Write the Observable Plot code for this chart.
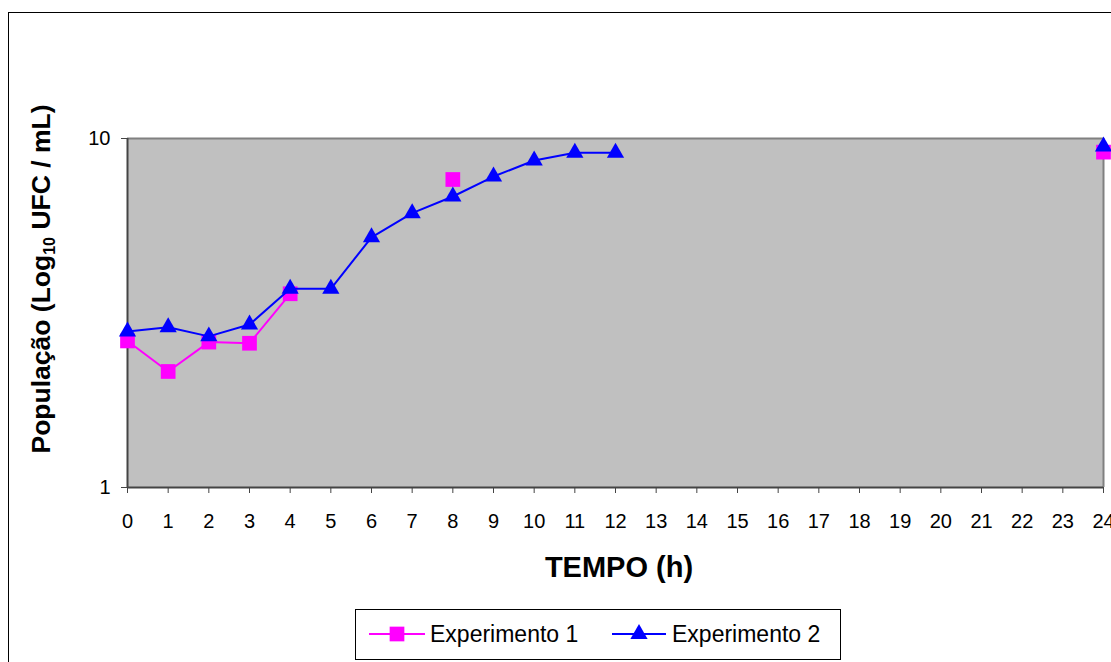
<!DOCTYPE html>
<html>
<head>
<meta charset="utf-8">
<script src="https://cdn.jsdelivr.net/npm/d3@7"></script>
<script src="https://cdn.jsdelivr.net/npm/@observablehq/plot@0.6"></script>
<style>
  html, body { margin: 0; padding: 0; background: #fff; }
  #chart { width: 1111px; height: 662px; overflow: hidden; }
</style>
</head>
<body>
<div id="chart"></div>
<script>
// ---- data ----
const hours = [0,1,2,3,4,5,6,7,8,9,10,11,12,13,14,15,16,17,18,19,20,21,22,23,24];
const exp1 = [2.63, 2.15, 2.61, 2.59, 3.59, null, null, null, 7.63, null, null, null, null,
              null, null, null, null, null, null, null, null, null, null, null, 9.14];
const exp2 = [2.80, 2.88, 2.71, 2.93, 3.71, 3.71, 5.21, 6.11, 6.82, 7.78, 8.65, 9.10, 9.10,
              null, null, null, null, null, null, null, null, null, null, null, 9.49];
const yTicks = [1, 10];
const seriesNames = ["Experimento 1", "Experimento 2"];
const xTitle = "TEMPO (h)";

const rows = hours.map((h, i) => ({h, e1: exp1[i], e2: exp2[i]}));

const W = 1111, H = 662;
const pink = "#FF00FF", blue = "#0000FF";

const chart = Plot.plot({
  width: W,
  height: H,
  marginLeft: 127,
  marginRight: 8,
  marginTop: 138,
  marginBottom: 175,
  style: {fontFamily: "'Liberation Sans', Arial, sans-serif", background: "white", color: "black", overflow: "hidden"},
  x: {type: "linear", domain: [0, 24]},
  y: {type: "log", domain: [1, 10]},
  marks: [
    Plot.frame({fill: "#C0C0C0", stroke: null}),
    Plot.ruleY([10], {stroke: "#808080", strokeWidth: 2}),
    Plot.ruleX([24], {stroke: "#808080", strokeWidth: 2}),
    Plot.axisX({ticks: hours, tickFormat: d => String(d), tickSize: 6, tickPadding: 20,
                fontSize: 20, stroke: "#444", label: null}),
    Plot.axisY({ticks: yTicks, tickFormat: d => String(d), tickSize: 6, tickPadding: 11,
                fontSize: 20, stroke: "#444", label: null}),
    Plot.ruleX([0], {stroke: "#444", strokeWidth: 2}),
    Plot.ruleY([1], {stroke: "#444", strokeWidth: 2}),
    Plot.line(rows, {x: "h", y: "e1", stroke: pink, strokeWidth: 2}),
    Plot.dot(rows, {x: "h", y: "e1", symbol: "square", r: 8.3, fill: pink, stroke: null}),
    Plot.line(rows, {x: "h", y: "e2", stroke: blue, strokeWidth: 2}),
    Plot.dot(rows, {x: "h", y: "e2", symbol: "triangle", r: 6.4, fill: blue, stroke: null})
  ]
});

document.getElementById("chart").appendChild(chart);

const svg = d3.select(chart);
const font = "'Liberation Sans', Arial, sans-serif";

// outer chart-area border (cropped at right and bottom)
svg.append("rect")
  .attr("x", 8.5).attr("y", 12.5).attr("width", 1300).attr("height", 900)
  .attr("fill", "none").attr("stroke", "black").attr("stroke-width", 1);

// y axis title with subscript
const yt = svg.append("text")
  .attr("transform", "translate(50,279) rotate(-90)")
  .attr("text-anchor", "middle")
  .attr("font-family", font)
  .attr("font-weight", "bold")
  .attr("font-size", 26.5)
  .attr("fill", "black");
yt.append("tspan").text("População (Log");
yt.append("tspan").attr("font-size", 16).attr("dy", 5).text("10");
yt.append("tspan").attr("dy", -5).text(" UFC / mL)");

// x axis title
svg.append("text")
  .attr("x", 619).attr("y", 577)
  .attr("text-anchor", "middle")
  .attr("font-family", font)
  .attr("font-weight", "bold")
  .attr("font-size", 29)
  .attr("fill", "black")
  .text(xTitle);

// legend
const lg = svg.append("g");
lg.append("rect").attr("x", 355.5).attr("y", 609.5).attr("width", 485).attr("height", 50)
  .attr("fill", "white").attr("stroke", "black").attr("stroke-width", 1);
const items = [
  {name: seriesNames[0], color: pink, sym: d3.symbolSquare, size: Math.PI * 8.3 * 8.3, x0: 369, x1: 425, tx: 430},
  {name: seriesNames[1], color: blue, sym: d3.symbolTriangle, size: Math.PI * 6.4 * 6.4, x0: 612, x1: 666, tx: 672}
];
items.forEach(it => {
  const cy = 634;
  lg.append("line").attr("x1", it.x0).attr("x2", it.x1).attr("y1", cy).attr("y2", cy)
    .attr("stroke", it.color).attr("stroke-width", 2);
  lg.append("path").attr("d", d3.symbol(it.sym, it.size)())
    .attr("transform", `translate(${(it.x0 + it.x1) / 2},${cy})`).attr("fill", it.color);
  lg.append("text").attr("x", it.tx).attr("y", cy + 8)
    .attr("text-anchor", "start")
    .attr("font-family", font).attr("font-size", 23).attr("fill", "black").text(it.name);
});
</script>
</body>
</html>
